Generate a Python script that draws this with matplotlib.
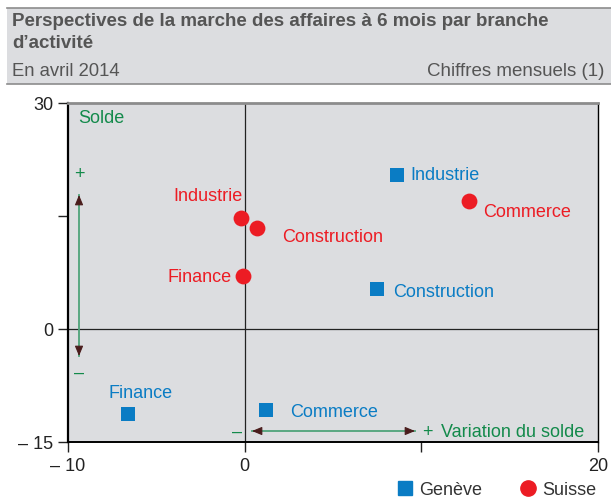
import matplotlib
matplotlib.use('Agg')
import matplotlib.pyplot as plt
from matplotlib.patches import Rectangle
from matplotlib.lines import Line2D

plt.rcParams['font.family'] = ['Liberation Sans', 'DejaVu Sans']

# Data: (variation du solde, solde)
branches = ['Industrie', 'Construction', 'Finance', 'Commerce']
geneve_x = [8.6, 7.5, -6.6, 1.2]
geneve_y = [20.5, 5.3, -11.3, -10.7]
suisse_x = [-0.2, 0.7, -0.1, 12.7]
suisse_y = [14.8, 13.4, 7.0, 17.0]

# label offsets in pixels (dx, dy, ha)
geneve_off = [(14, 0, 'left'), (16, -2, 'left'), (12, 22, 'center'), (24, -2, 'left')]
suisse_off = [(-33, 22, 'center'), (25, -8, 'left'), (-11, 0, 'right'), (14, -11, 'left')]

BLUE = '#0a7cc4'
RED = '#ec1c24'
GREEN = '#138a4b'
GREY_TXT = '#555555'
BG = '#dcdde0'
PX = 0.72  # points per pixel at dpi 100

fig = plt.figure(figsize=(6.11, 5.02), dpi=100)
W, H = 611, 502

# header band
fig.patches.append(Rectangle((7 / W, 1 - 85 / H), 1 - 7 / W, 76 / H,
                             transform=fig.transFigure, fc=BG, ec='none', zorder=0))
fig.add_artist(Line2D([7 / W, 1], [1 - 9 / H] * 2, color='#8c8c8c', lw=1.2))
fig.add_artist(Line2D([7 / W, 1], [1 - 85 / H] * 2, color='#8c8c8c', lw=1.2))
fig.text(12 / W, 1 - 22 / H, 'Perspectives de la marche des affaires à 6 mois par branche',
         fontsize=13.5, fontweight='bold', color=GREY_TXT, va='center')
fig.text(12 / W, 1 - 43 / H, 'd’activité', fontsize=13.5, fontweight='bold',
         color=GREY_TXT, va='center')
fig.text(12 / W, 1 - 72 / H, 'En avril 2014', fontsize=13.3, color=GREY_TXT, va='center')
fig.text(604 / W, 1 - 72 / H, 'Chiffres mensuels (1)', fontsize=13.5, color=GREY_TXT,
         va='center', ha='right')

ax = fig.add_axes([68 / W, 1 - 443 / H, 530 / W, 339 / H])
ax.set_facecolor(BG)
ax.set_xlim(-10, 20)
ax.set_ylim(-15, 30)
ax.axvline(0, color='#222222', lw=0.9, zorder=1)
ax.axhline(0, color='#222222', lw=0.9, zorder=1)

ax.set_xticks([-10, 0, 10, 20])
ax.set_xticklabels(['\u2013 10', '0', '', '20'])
ax.set_yticks([-15, 0, 15, 30])
ax.set_yticklabels(['\u2013 15', '0', '', '30'])
ax.tick_params(direction='out', length=7, width=1, labelsize=13, colors='#222222')
ax.spines['top'].set_color('#8c8c8c')
ax.spines['top'].set_linewidth(2)
ax.spines['left'].set_linewidth(1.6)
ax.spines['right'].set_linewidth(1.0)
ax.spines['bottom'].set_linewidth(1.4)

ax.scatter(geneve_x, geneve_y, marker='s', s=95, color=BLUE, lw=0, zorder=3)
ax.scatter(suisse_x, suisse_y, marker='o', s=130, color=RED, lw=0, zorder=3)

for name, x, y, (dx, dy, ha) in zip(branches, geneve_x, geneve_y, geneve_off):
    ax.annotate(name, (x, y), xytext=(dx * PX, dy * PX), textcoords='offset points',
                ha=ha, va='center', fontsize=13, color=BLUE)
for name, x, y, (dx, dy, ha) in zip(branches, suisse_x, suisse_y, suisse_off):
    ax.annotate(name, (x, y), xytext=(dx * PX, dy * PX), textcoords='offset points',
                ha=ha, va='center', fontsize=13, color=RED)

# reading guides
T = ax.transAxes
ax.text(0.019, 0.958, 'Solde', transform=T, fontsize=13, color=GREEN, va='center')
ax.text(0.0208, 0.7935, '+', transform=T, fontsize=13, color=GREEN, va='center', ha='center')
ax.text(0.0208, 0.2065, '\u2013', transform=T, fontsize=13, color=GREEN, va='center', ha='center')
ax.text(0.3189, 0.0324, '\u2013', transform=T, fontsize=13, color=GREEN, va='center', ha='center')
ax.text(0.6774, 0.0324, '+', transform=T, fontsize=13, color=GREEN, va='center', ha='center')
ax.text(0.7038, 0.0324, 'Variation du solde', transform=T, fontsize=13, color=GREEN,
        va='center')

for (x0, y0, x1, y1) in [(0.0208, 0.2537, 0.0208, 0.7286), (0.3472, 0.0324, 0.6547, 0.0324)]:
    ax.plot([x0, x1], [y0, y1], transform=T, color='#4fa37a', lw=1.3, zorder=2)
    for (a, b, c, d) in [(x0, y0, x1, y1), (x1, y1, x0, y0)]:
        ax.annotate('', xy=(c, d), xycoords=T,
                    xytext=(c + (a - c) * 0.04, d + (b - d) * 0.04), textcoords=T,
                    arrowprops=dict(arrowstyle='-|>,head_length=0.6,head_width=0.25',
                                    color='#4a1c1c', lw=0.8, shrinkA=0, shrinkB=0))

handles = [Line2D([], [], marker='s', ls='none', color=BLUE, markersize=9.5),
           Line2D([], [], marker='o', ls='none', color=RED, markersize=11)]
fig.legend(handles, ['Genève', 'Suisse'], loc='center left', ncol=2,
           bbox_to_anchor=(396 / W, 1 - 491 / H), frameon=False, fontsize=13,
           handletextpad=0.3, columnspacing=2.0, handlelength=1.0,
           labelcolor='#333333', borderpad=0, borderaxespad=0)

fig.savefig('out.png', dpi=100)
